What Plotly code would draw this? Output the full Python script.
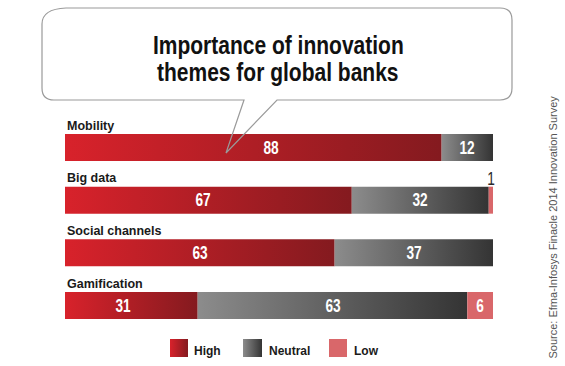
import plotly.graph_objects as go

# ---------------- data ----------------
categories = ["Mobility", "Big data", "Social channels", "Gamification"]
high = [88, 67, 63, 31]
neutral = [12, 32, 37, 63]
low = [0, 1, 0, 6]
series_names = ["High", "Neutral", "Low"]
title_lines = ["Importance of innovation", "themes for global banks"]
source_text = "Source: Efma-Infosys Finacle 2014 Innovation Survey"

# ---------------- styling ----------------
W, H = 565, 366
X0_PX, PX_PER_UNIT = 65, 4.28          # bar origin / scale in pixels
ROW0_PX, ROW_STEP_PX = 147.5, 52.667    # bar centre of first row / row spacing
BAR_H_PX = 27
high_grad = [[0, "#d8222b"], [1, "#841a1f"]]
neutral_grad = [[0, "#8c8c8c"], [1, "#343434"]]
low_color = "#d9676a"
high_label_shift = [18, -5, 0, -8]
FONT = "Liberation Sans, Arial, sans-serif"
TITLE_SIZE, NUM_SIZE = 25, 18   # these sizes are horizontally condensed below


def px_to_x(px):
    return (px - X0_PX) / PX_PER_UNIT


def px_to_y(py):
    return (py - ROW0_PX) / ROW_STEP_PX


def pp(px, py):
    return f"{px / W:.5f},{1 - py / H:.5f}"


half = (BAR_H_PX / 2) / ROW_STEP_PX

fig = go.Figure()


def seg_trace(x0, x1, yc, grad=None, color=None, hh=half):
    kw = dict(
        x=[x0, x1, x1, x0, x0],
        y=[yc - hh, yc - hh, yc + hh, yc + hh, yc - hh],
        mode="lines", fill="toself", line=dict(width=0),
        hoverinfo="skip", showlegend=False,
    )
    if grad is not None:
        kw["fillgradient"] = dict(type="horizontal", colorscale=grad)
    else:
        kw["fillcolor"] = color
    return go.Scatter(**kw)


annotations = []
for i, cat in enumerate(categories):
    segs = [(high[i], high_grad, None), (neutral[i], neutral_grad, None), (low[i], None, low_color)]
    start = 0
    for k, (v, grad, col) in enumerate(segs):
        if v <= 0:
            continue
        end = start + v
        fig.add_trace(seg_trace(start, end, i, grad=grad, color=col))
        mid = (start + end) / 2
        if v >= 3:
            annotations.append(dict(
                x=mid, y=i, xref="x", yref="y", text=str(v), showarrow=False,
                xshift=high_label_shift[i] if k == 0 else 0,
                font=dict(family=FONT, size=NUM_SIZE, color="white", weight="bold"),
                xanchor="center", yanchor="middle"))
        else:
            annotations.append(dict(
                x=mid, y=i, xref="x", yref="y", text=str(v), showarrow=False,
                yshift=21, xshift=0,
                font=dict(family=FONT, size=NUM_SIZE, color="#2a2a2a"),
                xanchor="center", yanchor="middle"))
        start = end
    annotations.append(dict(
        x=0, y=i, xref="x", yref="y", text=cat, showarrow=False,
        yshift=22, xanchor="left", yanchor="middle",
        font=dict(family=FONT, size=12.5, color="#1a1a1a", weight="bold")))

# ---------------- legend (manual, gradient swatches) ----------------
legend_items = [
    (series_names[0], 170, 188, high_grad, None, 192),
    (series_names[1], 243, 262, neutral_grad, None, 267),
    (series_names[2], 329, 347, None, low_color, 352),
]
sw_top, sw_bot = 339, 357
for name, l, r, grad, col, tx in legend_items:
    yc = px_to_y((sw_top + sw_bot) / 2)
    hh = ((sw_bot - sw_top) / 2) / ROW_STEP_PX
    fig.add_trace(seg_trace(px_to_x(l), px_to_x(r), yc, grad=grad, color=col, hh=hh))
    annotations.append(dict(
        x=tx / W, y=1 - 351 / H, xref="paper", yref="paper", text=name,
        showarrow=False, xanchor="left", yanchor="middle",
        font=dict(family=FONT, size=12, color="#1a1a1a", weight="bold")))

# ---------------- title / source ----------------
for line, ypx in zip(title_lines, [45, 72]):
    annotations.append(dict(
        x=278 / W, y=1 - ypx / H, xref="paper", yref="paper", text=line,
        showarrow=False, xanchor="center", yanchor="middle",
        font=dict(family=FONT, size=TITLE_SIZE, color="#111111", weight="bold")))
annotations.append(dict(
    x=552 / W, y=1 - 227.5 / H, xref="paper", yref="paper", text=source_text,
    showarrow=False, textangle=-90, xanchor="center", yanchor="middle",
    font=dict(family=FONT, size=11, color="#555555")))

# ---------------- speech bubble ----------------
outline = (
    f"M {pp(66, 8)} L {pp(500, 8)} Q {pp(512, 8)} {pp(512, 20)} "
    f"L {pp(512, 88)} Q {pp(512, 100)} {pp(500, 100)} "
    f"L {pp(277, 100)} L {pp(226, 153)} L {pp(244, 100)} "
    f"L {pp(54, 100)} Q {pp(42, 100)} {pp(42, 88)} "
    f"L {pp(42, 24)} Q {pp(42, 9)} {pp(66, 8)} Z"
)
body = (
    f"M {pp(66, 8)} L {pp(500, 8)} Q {pp(512, 8)} {pp(512, 20)} "
    f"L {pp(512, 88)} Q {pp(512, 100)} {pp(500, 100)} "
    f"L {pp(54, 100)} Q {pp(42, 100)} {pp(42, 88)} "
    f"L {pp(42, 24)} Q {pp(42, 9)} {pp(66, 8)} Z"
)
shapes = [
    dict(type="path", path=body, xref="paper", yref="paper", fillcolor="white",
         line=dict(width=0), layer="below"),
    dict(type="path", path=outline, xref="paper", yref="paper", fillcolor="rgba(0,0,0,0)",
         line=dict(color="#9a9a9a", width=1.2), layer="above"),
]

fig.update_layout(
    width=W, height=H,
    margin=dict(l=0, r=0, t=0, b=0),
    paper_bgcolor="white", plot_bgcolor="white",
    xaxis=dict(range=[px_to_x(0), px_to_x(W)], visible=False, fixedrange=True),
    yaxis=dict(range=[px_to_y(H), px_to_y(0)], visible=False, fixedrange=True),
    showlegend=False,
    annotations=annotations,
    shapes=shapes,
)

# page margin reset + condensed rendering of title and value labels
post = """
document.body.style.margin = '0';
var cond = {'%dpx': 0.84, '%dpx': 0.76};
document.querySelectorAll('text.annotation-text').forEach(function (t) {
  var f = cond[t.style.fontSize];
  if (f) {
    var w = t.getComputedTextLength();
    t.setAttribute('textLength', (w * f).toFixed(2));
    t.setAttribute('lengthAdjust', 'spacingAndGlyphs');
  }
});
""" % (TITLE_SIZE, NUM_SIZE)

fig.write_html("out.html", post_script=post, config={"displayModeBar": False})
